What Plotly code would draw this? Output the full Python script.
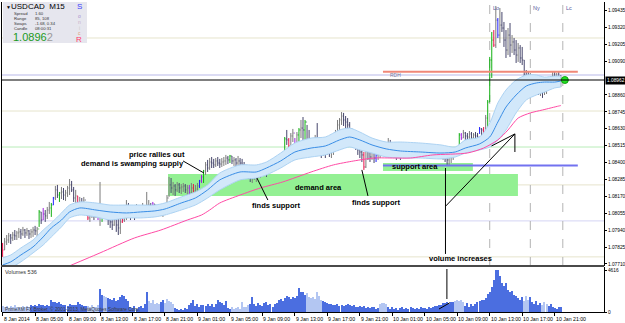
import plotly.graph_objects as go

# ---------------- data ----------------
TIME_LABELS = ["8 Jan 2014", "8 Jan 05:00", "8 Jan 09:00", "8 Jan 13:00", "8 Jan 17:00",
               "8 Jan 21:00", "9 Jan 01:00", "9 Jan 05:00", "9 Jan 09:00", "9 Jan 13:00",
               "9 Jan 17:00", "9 Jan 21:00", "10 Jan 01:00", "10 Jan 05:00", "10 Jan 09:00",
               "10 Jan 13:00", "10 Jan 17:00", "10 Jan 21:00"]
BARS_PER_LABEL = 16

FIRST_OPEN = 1.07840
HIGH = [
    1.07853, 1.07887, 1.07907, 1.07921, 1.07914, 1.07928, 1.07941, 1.07935, 1.07955, 1.07948,
    1.07962, 1.07948, 1.07955, 1.07941, 1.07948, 1.07962, 1.07969, 1.07962, 1.08077, 1.08064,
    1.08091, 1.08077, 1.08098, 1.08132, 1.08125, 1.08166, 1.08241, 1.08248, 1.08200, 1.08234,
    1.08227, 1.08214, 1.08241, 1.08288, 1.08275, 1.08234, 1.08214, 1.08173, 1.08166, 1.08159,
    1.08166, 1.08125, 1.08091, 1.08084, 1.08105, 1.08091, 1.08111, 1.08091, 1.08268, 1.08098,
    1.08111, 1.08091, 1.08077, 1.08064, 1.08043, 1.08057, 1.08077, 1.08064, 1.08023, 1.08091,
    1.08111, 1.08145, 1.08125, 1.08105, 1.08111, 1.08098, 1.08118, 1.08111, 1.08105, 1.08125,
    1.08111, 1.08200, 1.08145, 1.08125, 1.08132, 1.08118, 1.08105, 1.08111, 1.08105, 1.08098,
    1.08111, 1.08179, 1.08302, 1.08295, 1.08268, 1.08254, 1.08268, 1.08261, 1.08254, 1.08261,
    1.08254, 1.08248, 1.08248, 1.08261, 1.08254, 1.08248, 1.08261, 1.08282, 1.08316, 1.08350,
    1.08404, 1.08418, 1.08431, 1.08438, 1.08425, 1.08431, 1.08438, 1.08425, 1.08431, 1.08438,
    1.08452, 1.08445, 1.08452, 1.08445, 1.08438, 1.08431, 1.08445, 1.08431, 1.08425, 1.08404,
    1.08384, 1.08363, 1.08350, 1.08336, 1.08350, 1.08363, 1.08336, 1.08363, 1.08377, 1.08384,
    1.08370, 1.08397, 1.08404, 1.08418, 1.08425, 1.08438, 1.08452, 1.08445, 1.08465, 1.08574,
    1.08622, 1.08567, 1.08601, 1.08629, 1.08567, 1.08608, 1.08635, 1.08690, 1.08710, 1.08690,
    1.08656, 1.08622, 1.08567, 1.08554, 1.08588, 1.08669, 1.08574, 1.08554, 1.08533, 1.08520,
    1.08533, 1.08527, 1.08513, 1.08540, 1.08622, 1.08690, 1.08703, 1.08744, 1.08738, 1.08717,
    1.08703, 1.08676, 1.08635, 1.08622, 1.08567, 1.08540, 1.08520, 1.08499, 1.08472, 1.08520,
    1.08506, 1.08486, 1.08499, 1.08486, 1.08465, 1.08486, 1.08499, 1.08506, 1.08513, 1.08506,
    1.08567, 1.08554, 1.08520, 1.08506, 1.08499, 1.08513, 1.08506, 1.08520, 1.08506, 1.08513,
    1.08499, 1.08506, 1.08513, 1.08506, 1.08520, 1.08506, 1.08486, 1.08499, 1.08506, 1.08499,
    1.08506, 1.08499, 1.08506, 1.08499, 1.08506, 1.08506, 1.08499, 1.08506, 1.08486, 1.08472,
    1.08459, 1.08472, 1.08486, 1.08506, 1.08506, 1.08601, 1.08601, 1.08622, 1.08608, 1.08601,
    1.08615, 1.08608, 1.08601, 1.08608, 1.08601, 1.08642, 1.08635, 1.08642, 1.08724, 1.08826,
    1.09119, 1.09289, 1.09302, 1.09466, 1.09384, 1.09452, 1.09425, 1.09357, 1.09302, 1.09316,
    1.09350, 1.09268, 1.09248, 1.09234, 1.09214, 1.09200, 1.09187, 1.09098, 1.09030, 1.09017,
    1.09010, 1.08996, 1.08962, 1.08955, 1.08948, 1.08935, 1.08928, 1.08942, 1.08935, 1.08948,
    1.08976, 1.09017, 1.09017, 1.09010, 1.09017, 1.08996]
LOW = [
    1.07758, 1.07805, 1.07839, 1.07853, 1.07846, 1.07867, 1.07873, 1.07873, 1.07887, 1.07880,
    1.07901, 1.07887, 1.07901, 1.07880, 1.07887, 1.07894, 1.07907, 1.07894, 1.07962, 1.07982,
    1.08009, 1.07996, 1.08016, 1.08050, 1.08030, 1.08111, 1.08145, 1.08159, 1.08132, 1.08152,
    1.08145, 1.08139, 1.08166, 1.08179, 1.08200, 1.08132, 1.08111, 1.08098, 1.08077, 1.08084,
    1.08091, 1.08043, 1.08009, 1.07996, 1.08023, 1.08009, 1.08023, 1.08009, 1.07969, 1.07996,
    1.08023, 1.08030, 1.07975, 1.07955, 1.07941, 1.07969, 1.07928, 1.07907, 1.07914, 1.07989,
    1.07996, 1.08009, 1.08023, 1.08009, 1.08023, 1.08009, 1.08037, 1.08030, 1.08023, 1.08043,
    1.08030, 1.08030, 1.08057, 1.08050, 1.08077, 1.08043, 1.08037, 1.08050, 1.08037, 1.08030,
    1.08043, 1.08064, 1.08166, 1.08193, 1.08179, 1.08173, 1.08200, 1.08193, 1.08186, 1.08200,
    1.08193, 1.08179, 1.08179, 1.08179, 1.08193, 1.08166, 1.08193, 1.08227, 1.08261, 1.08261,
    1.08316, 1.08336, 1.08350, 1.08363, 1.08363, 1.08370, 1.08377, 1.08363, 1.08370, 1.08377,
    1.08384, 1.08390, 1.08397, 1.08390, 1.08377, 1.08363, 1.08377, 1.08370, 1.08363, 1.08336,
    1.08316, 1.08288, 1.08268, 1.08261, 1.08282, 1.08268, 1.08295, 1.08295, 1.08309, 1.08316,
    1.08302, 1.08336, 1.08343, 1.08350, 1.08363, 1.08377, 1.08384, 1.08384, 1.08404, 1.08465,
    1.08520, 1.08499, 1.08520, 1.08540, 1.08499, 1.08513, 1.08520, 1.08567, 1.08554, 1.08554,
    1.08499, 1.08465, 1.08438, 1.08452, 1.08486, 1.08506, 1.08472, 1.08431, 1.08445, 1.08431,
    1.08452, 1.08438, 1.08431, 1.08452, 1.08520, 1.08574, 1.08622, 1.08656, 1.08649, 1.08635,
    1.08622, 1.08588, 1.08554, 1.08520, 1.08486, 1.08452, 1.08431, 1.08404, 1.08350, 1.08363,
    1.08418, 1.08404, 1.08418, 1.08397, 1.08404, 1.08418, 1.08431, 1.08445, 1.08445, 1.08452,
    1.08452, 1.08472, 1.08452, 1.08431, 1.08418, 1.08445, 1.08418, 1.08431, 1.08438, 1.08445,
    1.08431, 1.08445, 1.08452, 1.08445, 1.08452, 1.08438, 1.08438, 1.08445, 1.08452, 1.08438,
    1.08445, 1.08438, 1.08445, 1.08438, 1.08431, 1.08445, 1.08431, 1.08418, 1.08404, 1.08384,
    1.08377, 1.08397, 1.08418, 1.08452, 1.08465, 1.08499, 1.08554, 1.08567, 1.08554, 1.08547,
    1.08561, 1.08554, 1.08554, 1.08561, 1.08547, 1.08595, 1.08581, 1.08588, 1.08608, 1.08608,
    1.08812, 1.08976, 1.09187, 1.09180, 1.09248, 1.09214, 1.09289, 1.09187, 1.09112, 1.09132,
    1.09119, 1.09146, 1.09132, 1.09078, 1.09085, 1.09078, 1.09064, 1.08982, 1.08928, 1.08914,
    1.08914, 1.08908, 1.08880, 1.08867, 1.08860, 1.08853, 1.08840, 1.08860, 1.08867, 1.08894,
    1.08908, 1.08935, 1.08942, 1.08928, 1.08948, 1.08914]
CLOSE = [
    1.07805, 1.07860, 1.07873, 1.07901, 1.07887, 1.07907, 1.07901, 1.07921, 1.07928, 1.07914,
    1.07941, 1.07921, 1.07935, 1.07914, 1.07928, 1.07941, 1.07935, 1.07948, 1.08064, 1.08009,
    1.08050, 1.08037, 1.08077, 1.08091, 1.08111, 1.08159, 1.08214, 1.08179, 1.08193, 1.08200,
    1.08179, 1.08193, 1.08227, 1.08248, 1.08214, 1.08159, 1.08173, 1.08111, 1.08125, 1.08105,
    1.08145, 1.08077, 1.08023, 1.08050, 1.08077, 1.08037, 1.08064, 1.08050, 1.08077, 1.08091,
    1.08057, 1.08043, 1.08009, 1.07996, 1.07975, 1.08023, 1.07975, 1.07955, 1.07996, 1.08009,
    1.08091, 1.08111, 1.08077, 1.08064, 1.08071, 1.08050, 1.08091, 1.08064, 1.08077, 1.08105,
    1.08064, 1.08111, 1.08111, 1.08084, 1.08118, 1.08071, 1.08077, 1.08091, 1.08064, 1.08077,
    1.08098, 1.08159, 1.08248, 1.08227, 1.08241, 1.08214, 1.08248, 1.08227, 1.08234, 1.08241,
    1.08214, 1.08227, 1.08193, 1.08227, 1.08207, 1.08220, 1.08241, 1.08275, 1.08302, 1.08343,
    1.08384, 1.08363, 1.08404, 1.08397, 1.08384, 1.08411, 1.08397, 1.08390, 1.08404, 1.08411,
    1.08431, 1.08418, 1.08445, 1.08411, 1.08418, 1.08397, 1.08411, 1.08397, 1.08384, 1.08363,
    1.08336, 1.08322, 1.08295, 1.08309, 1.08316, 1.08336, 1.08302, 1.08350, 1.08336, 1.08363,
    1.08343, 1.08377, 1.08390, 1.08397, 1.08404, 1.08425, 1.08431, 1.08438, 1.08452, 1.08561,
    1.08554, 1.08513, 1.08581, 1.08601, 1.08520, 1.08588, 1.08622, 1.08635, 1.08622, 1.08676,
    1.08554, 1.08520, 1.08486, 1.08520, 1.08554, 1.08540, 1.08499, 1.08472, 1.08499, 1.08486,
    1.08513, 1.08472, 1.08486, 1.08520, 1.08601, 1.08656, 1.08690, 1.08717, 1.08690, 1.08676,
    1.08656, 1.08622, 1.08588, 1.08540, 1.08520, 1.08486, 1.08472, 1.08452, 1.08370, 1.08486,
    1.08472, 1.08438, 1.08479, 1.08431, 1.08452, 1.08465, 1.08479, 1.08493, 1.08499, 1.08486,
    1.08533, 1.08513, 1.08465, 1.08486, 1.08452, 1.08493, 1.08472, 1.08486, 1.08479, 1.08493,
    1.08465, 1.08486, 1.08493, 1.08479, 1.08499, 1.08472, 1.08479, 1.08486, 1.08493, 1.08465,
    1.08486, 1.08472, 1.08486, 1.08465, 1.08479, 1.08459, 1.08445, 1.08472, 1.08431, 1.08418,
    1.08438, 1.08452, 1.08472, 1.08499, 1.08486, 1.08588, 1.08567, 1.08601, 1.08581, 1.08574,
    1.08595, 1.08567, 1.08588, 1.08581, 1.08574, 1.08629, 1.08622, 1.08595, 1.08703, 1.08812,
    1.09098, 1.09234, 1.09200, 1.09370, 1.09268, 1.09336, 1.09316, 1.09234, 1.09166, 1.09268,
    1.09200, 1.09221, 1.09166, 1.09132, 1.09180, 1.09112, 1.09098, 1.09017, 1.08962, 1.08948,
    1.08976, 1.08935, 1.08921, 1.08908, 1.08894, 1.08901, 1.08880, 1.08908, 1.08921, 1.08935,
    1.08962, 1.08989, 1.08976, 1.08982, 1.08969, 1.08962]
VOLUME = [
    650, 520, 700, 480, 610, 560, 720, 540, 600, 470, 650, 580, 700, 520,
    740, 620, 810, 690, 900, 760, 820, 640, 780, 700,
    1300,
    1050, 1120, 980, 1100, 900,
    760, 820, 700, 860, 780, 720, 800, 1080,
    900, 740, 680, 620,
    700, 560, 820, 520, 600, 760,
    2550,
    1900, 1800, 1700, 1500,
    1400, 1300, 1550, 1250, 1350,
    1600, 1900, 1750, 1400, 1200,
    600, 450, 700, 380, 520, 640, 420,
    900, 2150,
    1200, 950, 1300, 880, 1000, 900,
    1100, 1350, 1000, 1400, 1250, 1150, 900,
    450, 300, 200, 350, 250, 400, 300,
    800, 1000, 1300,
    700, 850, 600, 750, 800, 650, 900, 700, 850, 600,
    900, 1300, 1100, 950, 800, 1200,
    450, 350, 500, 300, 400, 550, 380, 1050, 500,
    600, 750, 850, 1600,
    900, 700, 1000, 800, 650, 950, 1100, 750, 850, 600, 900, 1000, 1300, 1400, 1250,
    1500, 1800, 1650, 1400, 1700, 1550, 1800,
    2600,
    2200, 2150, 1900, 2050,
    1650, 1500, 1700, 1450, 2150, 1800, 1350,
    1200, 1100, 1000, 900,
    850, 800, 750, 900, 700, 800, 650, 750, 850, 800, 700, 750,
    600, 550, 700, 500, 650, 400, 550, 450, 600, 500, 380, 450,
    900, 1000, 950, 850,
    500, 350, 600, 300, 450, 250, 400, 550, 300, 450, 350, 500,
    400, 300, 450, 350, 500, 400, 450, 350, 550, 450, 600, 700,
    650, 750, 800, 950, 1000,
    1100, 900, 1050, 1150,
    1250, 1350, 1200, 1300, 1150,
    700, 1000, 600, 850, 700, 900, 1050,
    1250, 1350, 1300,
    1500, 2000, 2150, 2700, 3550, 4616, 4600, 3950, 3200, 2900, 3200, 2400, 2200, 2350, 1900, 1750,
    1500, 1300, 1650, 1200, 1800, 1350,
    1600, 1100, 900, 1250, 800,
    950, 750, 1050, 850, 700, 900, 600,
    450, 350, 500, 536]

GREEN_BARS = [18, 24, 28, 49, 99, 112, 139, 146, 149, 225, 239, 240, 241]
RED_BARS = [0, 37, 42, 59, 94, 126, 141, 178, 192, 215, 216, 237, 242]
BLUE_BARS = [25, 97, 184, 188, 206, 235, 244]
PURPLE_BARS = [20, 47, 51, 74, 92, 98, 144, 226]
LIGHT_VOLUME_RUNS = [(0, 13), (42, 47), (50, 51), (72, 77), (80, 84), (113, 121),
                     (150, 157), (186, 189), (223, 227), (257, 259), (266, 268)]

# Sonic R "dragon" (EMA 34 of high / close / low) read at sample bars
DRAGON_IDX = [0, 4, 9, 15, 20, 24, 29, 33, 38, 46, 53, 61, 68, 75, 80, 88, 95, 101, 107, 117,
              125, 130, 137, 144, 152, 159, 166, 171, 176, 182, 189, 196, 206, 216, 223, 228,
              235, 240, 244, 248, 253, 258, 263, 267, 272, 275]
DRAGON_HIGH = [1.07751, 1.07771, 1.07819, 1.07873, 1.07941, 1.07989, 1.08057, 1.08111, 1.08132, 1.08125,
               1.08111, 1.08111, 1.08111, 1.08111, 1.08125, 1.08166, 1.08200, 1.08248, 1.08329, 1.08384,
               1.08384, 1.08404, 1.08465, 1.08533, 1.08567, 1.08574, 1.08622, 1.08635, 1.08608, 1.08567,
               1.08540, 1.08540, 1.08533, 1.08520, 1.08506, 1.08554, 1.08574, 1.08669, 1.08806, 1.08894,
               1.08962, 1.08996, 1.08996, 1.08982, 1.08989, 1.08989]
DRAGON_MID = [1.07703, 1.07724, 1.07771, 1.07826, 1.07894, 1.07955, 1.08009, 1.08064, 1.08091, 1.08077,
              1.08064, 1.08057, 1.08064, 1.08071, 1.08084, 1.08125, 1.08159, 1.08214, 1.08282, 1.08336,
              1.08336, 1.08363, 1.08411, 1.08472, 1.08499, 1.08513, 1.08554, 1.08574, 1.08554, 1.08520,
              1.08493, 1.08479, 1.08472, 1.08465, 1.08472, 1.08499, 1.08527, 1.08574, 1.08676, 1.08778,
              1.08860, 1.08921, 1.08942, 1.08948, 1.08948, 1.08955]
DRAGON_LOW = [1.07656, 1.07683, 1.07724, 1.07785, 1.07839, 1.07894, 1.07962, 1.08023, 1.08043, 1.08030,
              1.08009, 1.08023, 1.08023, 1.08030, 1.08043, 1.08077, 1.08111, 1.08159, 1.08214, 1.08282,
              1.08295, 1.08316, 1.08363, 1.08418, 1.08438, 1.08452, 1.08486, 1.08506, 1.08486, 1.08465,
              1.08438, 1.08431, 1.08431, 1.08425, 1.08438, 1.08465, 1.08486, 1.08506, 1.08554, 1.08622,
              1.08738, 1.08826, 1.08860, 1.08880, 1.08908, 1.08914]
# EMA 89 (pink)
TREND_IDX = [30, 34, 48, 65, 78, 91, 98, 102, 107, 117, 127, 138, 152, 163, 173, 183, 193, 201,
             212, 229, 237, 244, 249, 254, 260, 266, 274, 275]
TREND_EMA = [1.07680, 1.07703, 1.07785, 1.07887, 1.07941, 1.08009, 1.08043, 1.08077, 1.08125, 1.08179,
             1.08227, 1.08268, 1.08336, 1.08384, 1.08411, 1.08431, 1.08431, 1.08431, 1.08452, 1.08465,
             1.08499, 1.08554, 1.08622, 1.08703, 1.08738, 1.08758, 1.08785, 1.08788]

# 1.08975 is hidden behind the current-price tag in the reference
Y_TICKS = [1.07710, 1.07825, 1.07940, 1.08055, 1.08170, 1.08285, 1.08400, 1.08515, 1.08630,
           1.08745, 1.08860, 1.09090, 1.09205, 1.09320, 1.09435]
PRICE_RANGE = [1.07696, 1.09493]
VOLUME_MAX_LABEL = 4616
PIVOT_LEVELS = [1.09248, 1.08751, 1.08506, 1.08248, 1.08003, 1.07758]
PIVOT_COLORS = ["#e6e4cc", "#e6e4cc", "#b8ecb8", "#e6e4cc", "#d4d4f4", "#e6e4cc"]
PREV_LEVEL = 1.08996
RDH_LEVEL = 1.09019
SUPPORT_LEVEL = 1.08380
DEMAND_ZONE = (81.5, 253.9, 1.08173, 1.08322)
SUPPORT_ZONE = (187.4, 231.7, 1.08343, 1.08397)
LEVEL_SPAN = (187.4, 283.4)
SESSIONS = [(240, "Lo"), (260, "Ny"), (276, "Lc")]

# ---------------- figure ----------------
N = len(CLOSE)
if not (len(HIGH) == len(LOW) == len(VOLUME) == N):
    raise ValueError(f"length mismatch {len(HIGH)} {len(LOW)} {len(CLOSE)} {len(VOLUME)}")
OPEN = [FIRST_OPEN] + CLOSE[:-1]
IDX = list(range(N))

W, H = 625, 323
ML, MR, MT, MB = 2, 21, 2, 11
PW, PH = W - ML - MR, H - MT - MB


def PX(x):
    return (x - ML) / PW


def PY(y):
    return (H - MB - y) / PH


FONT = "Liberation Sans, Arial, sans-serif"
fig = go.Figure()

# dragon band
line_band = dict(color="#add3f3", width=1, shape="spline", smoothing=0.7)
fig.add_trace(go.Scatter(x=DRAGON_IDX, y=DRAGON_HIGH, mode="lines", line=line_band,
                         hoverinfo="skip", showlegend=False))
fig.add_trace(go.Scatter(x=DRAGON_IDX, y=DRAGON_LOW, mode="lines", line=line_band,
                         fill="tonexty", fillcolor="#d2e8fa", hoverinfo="skip", showlegend=False))
fig.add_trace(go.Scatter(x=DRAGON_IDX, y=DRAGON_MID, mode="lines",
                         line=dict(color="#3a8ee6", width=1, shape="spline", smoothing=0.7),
                         hoverinfo="skip", showlegend=False))
fig.add_trace(go.Scatter(x=TREND_IDX, y=TREND_EMA, mode="lines",
                         line=dict(color="#ff4aa5", width=1, shape="spline", smoothing=0.7),
                         hoverinfo="skip", showlegend=False))

colored = set(GREEN_BARS) | set(RED_BARS) | set(BLUE_BARS) | set(PURPLE_BARS)


def ohlc(indices, up, down):
    return go.Ohlc(x=indices, open=[OPEN[i] for i in indices], high=[HIGH[i] for i in indices],
                   low=[LOW[i] for i in indices], close=[CLOSE[i] for i in indices],
                   increasing=dict(line=dict(color=up, width=1)),
                   decreasing=dict(line=dict(color=down, width=1)),
                   tickwidth=0.35, hoverinfo="skip", showlegend=False)


fig.add_trace(ohlc([i for i in IDX if i not in colored], "#7c7c7c", "#46466c"))
for bars, col in [(GREEN_BARS, "#12b012"), (RED_BARS, "#e8104a"),
                  (BLUE_BARS, "#2020ff"), (PURPLE_BARS, "#a020e0")]:
    fig.add_trace(ohlc(bars, col, col))

# current price dot
fig.add_trace(go.Scatter(x=[N + 1], y=[CLOSE[-1]], mode="markers",
                         marker=dict(color="#22e022", size=7, line=dict(color="#10a010", width=1)),
                         hoverinfo="skip", showlegend=False))

# volumes
light = set()
for a, b in LIGHT_VOLUME_RUNS:
    light.update(range(a, b + 1))
vcols = ["#b3c6f2" if i in light else "#4b6ee0" for i in IDX]
fig.add_trace(go.Bar(x=IDX, y=VOLUME, marker=dict(color=vcols, line=dict(width=0)), width=0.55,
                     xaxis="x2", yaxis="y2", hoverinfo="skip", showlegend=False))

shapes = []
# pivot lines and levels
for lvl, col in zip(PIVOT_LEVELS, PIVOT_COLORS):
    shapes.append(dict(type="line", xref="x domain", yref="y", x0=0, x1=1, y0=lvl, y1=lvl,
                       line=dict(color=col, width=1), layer="below"))
shapes.append(dict(type="line", xref="x domain", yref="y", x0=0, x1=1, y0=PREV_LEVEL, y1=PREV_LEVEL,
                   line=dict(color="#dcdcf4", width=2), layer="below"))
# zones
for x0, x1, y0, y1 in [DEMAND_ZONE, SUPPORT_ZONE]:
    shapes.append(dict(type="rect", xref="x", yref="y", x0=x0, x1=x1, y0=y0, y1=y1,
                       fillcolor="#93f093", line=dict(width=0), layer="below"))
# sessions
for sx, _ in SESSIONS:
    shapes.append(dict(type="line", xref="x", yref="y domain", x0=sx, x1=sx, y0=0, y1=1,
                       line=dict(color="#b4b4b4", width=1, dash="dash"), layer="below"))
shapes.append(dict(type="line", xref="x", yref="y", x0=LEVEL_SPAN[0], x1=LEVEL_SPAN[1],
                   y0=RDH_LEVEL, y1=RDH_LEVEL, line=dict(color="#f08878", width=2)))
shapes.append(dict(type="line", xref="x", yref="y", x0=LEVEL_SPAN[0], x1=LEVEL_SPAN[1],
                   y0=SUPPORT_LEVEL, y1=SUPPORT_LEVEL, line=dict(color="#7272f0", width=2)))
shapes.append(dict(type="line", xref="x domain", yref="y", x0=0, x1=1, y0=CLOSE[-1], y1=CLOSE[-1],
                   line=dict(color="#000000", width=1)))

# annotation trend lines (bar index, price / volume)
ANNOT_LINES_PRICE = [(88.9, 1.08411, 99.2, 1.08329), (125.3, 1.08295, 130.7, 1.08145),
                     (177.0, 1.08350, 180.0, 1.08173), (218.2, 1.08363, 218.2, 1.07778),
                     (218.4, 1.08105, 252.4, 1.08595), (240.9, 1.08513, 252.4, 1.08595),
                     (252.4, 1.08595, 252.4, 1.08472)]
ANNOT_LINES_VOL = [(218.9, 4730, 218.9, 1430), (215.0, 330, 220.4, 1023)]
for x0, y0, x1, y1 in ANNOT_LINES_PRICE:
    shapes.append(dict(type="line", xref="x", yref="y", x0=x0, x1=x1, y0=y0, y1=y1,
                       line=dict(color="#000000", width=1)))
for x0, y0, x1, y1 in ANNOT_LINES_VOL:
    shapes.append(dict(type="line", xref="x2", yref="y2", x0=x0, x1=x1, y0=y0, y1=y1,
                       line=dict(color="#000000", width=1)))

# frame
shapes.append(dict(type="line", xref="paper", yref="paper", x0=PX(1.5), x1=PX(1.5), y0=0, y1=1,
                   line=dict(color="#000000", width=1)))
shapes.append(dict(type="line", xref="paper", yref="paper", x0=PX(1), x1=1, y0=PY(266), y1=PY(266),
                   line=dict(color="#4a4a4a", width=2)))
# info box
shapes.append(dict(type="rect", xref="paper", yref="paper", x0=PX(3), x1=PX(87), y0=PY(43), y1=PY(2),
                   fillcolor="#e6e6ee", line=dict(width=0), layer="above"))

ann = []


def txt(x, y, t, size, color="#000000", xanchor="left", xref="paper", yref="paper", **kw):
    ann.append(dict(x=x, y=y, xref=xref, yref=yref, text=t, showarrow=False, xanchor=xanchor,
                    yanchor="middle", font=dict(family=FONT, size=size, color=color), **kw))


# time labels
for k, lab in enumerate(TIME_LABELS):
    ann.append(dict(x=k * BARS_PER_LABEL, y=PY(313.5), xref="x2", yref="paper", text=lab,
                    showarrow=False, xanchor="left", yanchor="top", xshift=-1,
                    font=dict(family=FONT, size=5.2, color="#000000")))
# chart notes
B = lambda s: "<b>" + s + "</b>"
txt(76.3, 1.08452, B("price rallies out"), 7.5, xanchor="center", xref="x", yref="y")
txt(64.0, 1.08397, B("demand is swamping supply"), 7.5, xanchor="center", xref="x", yref="y")
txt(155.4, 1.08227, B("demand area"), 7.5, xanchor="center", xref="x", yref="y")
txt(134.7, 1.08111, B("finds support"), 7.5, xanchor="center", xref="x", yref="y")
txt(183.9, 1.08125, B("finds support"), 7.5, xanchor="center", xref="x", yref="y")
txt(203.2, 1.08370, B("support area"), 7.5, xanchor="center", xref="x", yref="y")
txt(225.8, 1.07744, B("volume increases"), 7.5, xanchor="center", xref="x", yref="y")
txt(189.9, 1.08993, "RDH", 5, color="#7a7a9a", xref="x", yref="y")
for sx, lab in SESSIONS:
    ann.append(dict(x=sx, y=1, xref="x", yref="y domain", text=lab, showarrow=False,
                    xanchor="left", yanchor="top", xshift=1, yshift=-1,
                    font=dict(family=FONT, size=5.5, color="#5a5aa0")))
# current price tag
ann.append(dict(x=1, y=CLOSE[-1], xref="paper", yref="y", text=f"{CLOSE[-1]:.5f}", showarrow=False,
                xanchor="left", yanchor="middle", xshift=1, bgcolor="#000000", borderpad=1,
                font=dict(family=FONT, size=4.8, color="#ffffff")))
# info panel
txt(PX(3.5), PY(7), "▼", 5)
txt(PX(9), PY(7), "USDCAD  M15", 8)
for yy, lab, val in [(13.5, "Spread", "1.60"), (18.5, "Range", "85, 108"),
                     (23.5, "Swaps", "-1.68, 0.34"), (28.5, "Candle", "08:00:31")]:
    txt(PX(12), PY(yy), lab, 4.2, color="#333333")
    txt(PX(33), PY(yy), val, 4.2, color="#333333")
txt(PX(11), PY(37.5), "1.0896<span style='color:#9a9a9a'>2</span>", 11, color="#1c9a1c")
for yy, ch, col, sz in [(7, "S", "#3c3cff", 8), (16, "o", "#a890d0", 5), (22, "n", "#c8b0c8", 5),
                        (27.5, "i", "#c8c8c8", 5), (33, "c", "#e0a070", 5), (39.5, "R", "#ff3a6a", 8)]:
    txt(PX(79), PY(yy), ch, sz, color=col, xanchor="center")
# volume pane texts
txt(PX(3), PY(272), "Volumes 536", 5.5, color="#333333")
txt(PX(3), PY(309), "PrimeXM FX Broker, © 2001-2013, MetaQuotes Software Corp.", 4.8, color="#3a3a3a")

fig.update_layout(
    width=W, height=H, autosize=False,
    margin=dict(l=ML, r=MR, t=MT, b=MB, pad=0, autoexpand=False),
    paper_bgcolor="#ffffff", plot_bgcolor="#ffffff",
    showlegend=False, bargap=0, hovermode=False,
    shapes=shapes, annotations=ann,
    xaxis=dict(domain=[0, 1], range=[-0.3, 296.3], anchor="y", showticklabels=False, ticks="",
               showgrid=False, zeroline=False, showline=False, automargin=False,
               rangeslider=dict(visible=False)),
    yaxis=dict(domain=[PY(266), 1], range=PRICE_RANGE, side="right", anchor="x", automargin=False,
               tickvals=Y_TICKS, tickformat=".5f", ticks="outside", ticklen=2, tickcolor="#000000",
               tickfont=dict(family=FONT, size=4.8, color="#000000"), showgrid=False, zeroline=False,
               showline=True, linecolor="#000000", linewidth=1),
    xaxis2=dict(domain=[0, 1], matches="x", anchor="y2", automargin=False,
                tickvals=[k * BARS_PER_LABEL for k in range(len(TIME_LABELS))],
                showticklabels=False, ticks="outside", ticklen=3, tickcolor="#000000",
                showgrid=False, zeroline=False, showline=True, linecolor="#000000", linewidth=1,
                rangeslider=dict(visible=False)),
    yaxis2=dict(domain=[0, PY(267)], range=[0, 4950], side="right", anchor="x2", automargin=False,
                tickvals=[0, VOLUME_MAX_LABEL], ticktext=["0", str(VOLUME_MAX_LABEL)], ticks="outside",
                ticklen=2, tickcolor="#000000", tickfont=dict(family=FONT, size=4.8, color="#000000"),
                showgrid=False, zeroline=False, showline=True, linecolor="#000000", linewidth=1),
)

fig.write_html("out.html", config={"displayModeBar": False})
